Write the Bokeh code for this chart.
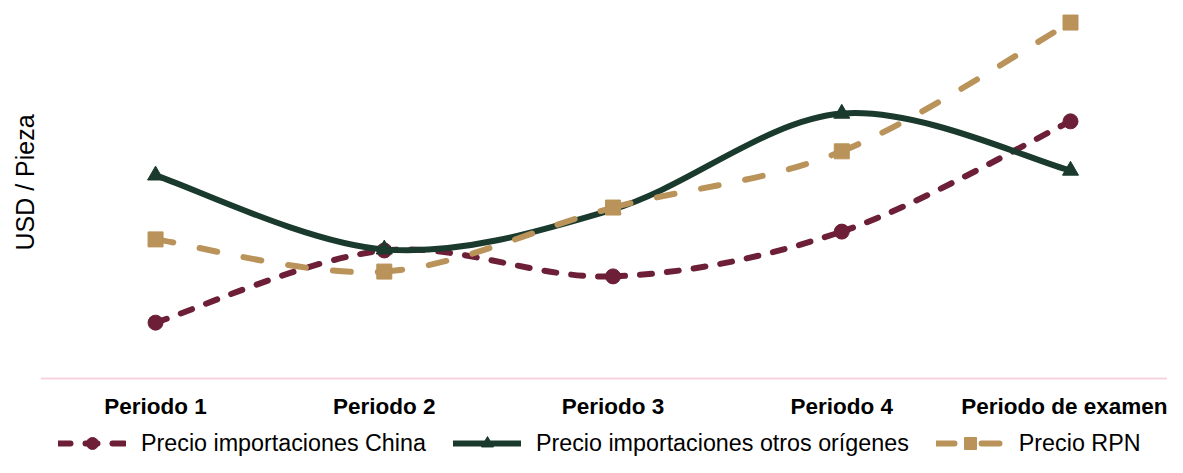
from bokeh.plotting import figure
from bokeh.models import FixedTicker, Legend, LegendItem, Range1d, ColumnDataSource, Title
from bokeh.embed import file_html
from bokeh.resources import INLINE

categories = ["Periodo 1", "Periodo 2", "Periodo 3", "Periodo 4", "Periodo de examen"]
china = [1.51, 3.46, 2.76, 3.97, 6.95]
otros = [5.49, 3.49, 4.57, 7.16, 5.62]
rpn = [3.76, 2.89, 4.62, 6.14, 9.62]
y_title = "USD / Pieza"

C_CHINA = "#6d1f37"
C_OTROS = "#1b3a2e"
C_RPN = "#b9935a"
FONT = "Liberation Sans"

xs = list(range(1, len(categories) + 1))

p = figure(width=1167, height=457, output_backend="svg", toolbar_location=None,
           x_range=Range1d(0.497, 5.424), y_range=Range1d(-2.135, 10),
           min_border_left=40, min_border_right=0, min_border_top=8, min_border_bottom=0)
p.outline_line_color = None
p.xgrid.visible = False
p.ygrid.visible = False


def bezier_source(xv, yv):
    n = len(xv)
    d = dict(x0=[], y0=[], x1=[], y1=[], cx0=[], cy0=[], cx1=[], cy1=[])
    for i in range(n - 1):
        pm = max(i - 1, 0)
        pn = min(i + 2, n - 1)
        d["x0"].append(xv[i]); d["y0"].append(yv[i])
        d["x1"].append(xv[i + 1]); d["y1"].append(yv[i + 1])
        d["cx0"].append(xv[i] + (xv[i + 1] - xv[pm]) / 6)
        d["cy0"].append(yv[i] + (yv[i + 1] - yv[pm]) / 6)
        d["cx1"].append(xv[i + 1] - (xv[pn] - xv[i]) / 6)
        d["cy1"].append(yv[i + 1] - (yv[pn] - yv[i]) / 6)
    return ColumnDataSource(d)


items = []
series = [
    ("Precio importaciones China", china, C_CHINA, "12 15", "circle", 15),
    ("Precio importaciones otros orígenes", otros, C_OTROS, "solid", "triangle", 16),
    ("Precio RPN", rpn, C_RPN, "18 27", "square", 15),
]
for label, vals, col, dash, marker, size in series:
    src = bezier_source(xs, vals)
    b = p.bezier(x0="x0", y0="y0", x1="x1", y1="y1", cx0="cx0", cy0="cy0", cx1="cx1", cy1="cy1",
                 source=src, line_color=col, line_width=6, line_dash=dash, line_cap="round")
    s = p.scatter(xs, vals, marker=marker, size=size, fill_color=col, line_color=col)
    items.append(LegendItem(label=label, renderers=[b, s]))

p.xaxis.fixed_location = 0
p.xaxis.ticker = FixedTicker(ticks=xs)
p.xaxis.major_label_overrides = {x: c for x, c in zip(xs, categories)}
p.xaxis.axis_line_color = "#f6d3de"
p.xaxis.axis_line_width = 2
p.xaxis.major_tick_line_color = None
p.xaxis.minor_tick_line_color = None
p.xaxis.major_tick_out = 0
p.xaxis.minor_tick_out = 0
p.xaxis.major_label_standoff = 15
p.xaxis.major_label_text_font = FONT
p.xaxis.major_label_text_font_style = "bold"
p.xaxis.major_label_text_font_size = "22.5px"
p.xaxis.major_label_text_color = "#000000"

p.yaxis.visible = False

ytitle = Title(text=y_title, align="left", offset=207, standoff=4,
               text_font=FONT, text_font_style="normal", text_font_size="25px",
               text_color="#000000")
p.add_layout(ytitle, "left")

legend = Legend(items=items, orientation="horizontal", location=(18, -1),
                glyph_width=68, glyph_height=30, label_height=30, label_standoff=15, spacing=27,
                padding=0, margin=0, border_line_color=None, background_fill_alpha=0,
                label_text_font=FONT, label_text_font_size="23.3px", label_text_color="#000000")
p.add_layout(legend, "center")

open("out.html", "w").write(file_html(p, INLINE))
